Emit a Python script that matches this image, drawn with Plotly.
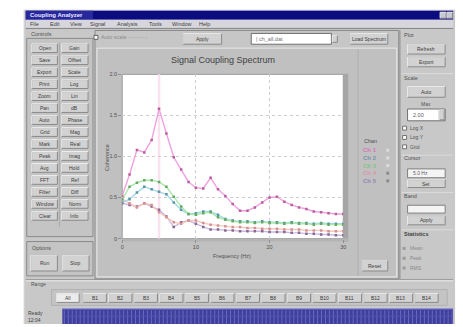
import plotly.graph_objects as go

W, H = 463, 327

# Coupling magnitude per channel at each frequency bin
freq = list(range(31))
series_names = ["Ch 1", "Ch 2", "Ch 3", "Ch 4", "Ch 5"]
ch1 = [0.52, 0.78, 1.08, 1.05, 1.20, 1.58, 1.28, 0.99, 0.84, 0.69, 0.62, 0.61, 0.74, 0.60, 0.52, 0.42,
       0.34, 0.34, 0.38, 0.44, 0.50, 0.51, 0.45, 0.41, 0.38, 0.36, 0.33, 0.32, 0.31, 0.30, 0.30]
ch2 = [0.44, 0.48, 0.56, 0.63, 0.60, 0.57, 0.54, 0.44, 0.35, 0.30, 0.31, 0.33, 0.33, 0.29, 0.24, 0.22,
       0.21, 0.21, 0.20, 0.21, 0.20, 0.20, 0.19, 0.20, 0.19, 0.19, 0.18, 0.19, 0.18, 0.18, 0.18]
ch3 = [0.48, 0.63, 0.68, 0.71, 0.71, 0.69, 0.63, 0.51, 0.39, 0.30, 0.29, 0.31, 0.32, 0.26, 0.23, 0.21,
       0.20, 0.20, 0.19, 0.20, 0.19, 0.19, 0.18, 0.19, 0.18, 0.18, 0.17, 0.18, 0.17, 0.17, 0.17]
ch4 = [0.48, 0.43, 0.38, 0.43, 0.41, 0.32, 0.26, 0.20, 0.18, 0.22, 0.22, 0.19, 0.17, 0.16, 0.15, 0.14,
       0.14, 0.13, 0.13, 0.12, 0.12, 0.12, 0.11, 0.11, 0.11, 0.10, 0.10, 0.10, 0.09, 0.09, 0.09]
ch5 = [0.43, 0.41, 0.39, 0.43, 0.39, 0.35, 0.27, 0.14, 0.20, 0.22, 0.18, 0.14, 0.11, 0.11, 0.10, 0.10,
       0.09, 0.09, 0.09, 0.09, 0.08, 0.08, 0.08, 0.07, 0.07, 0.06, 0.06, 0.05, 0.05, 0.04, 0.04]
x_ticks = [0, 10, 20, 30]
y_ticks = [0, 0.5, 1.0, 1.5, 2.0]
cursor_freq = 5

menu_items = ["File", "Edit", "View", "Signal", "Analysis", "Tools", "Window", "Help"]
left_col_a = ["Open", "Save", "Export", "Print", "Zoom", "Pan", "Auto", "Grid",
              "Mark", "Peak", "Avg", "FFT", "Filter", "Window", "Clear"]
left_col_b = ["Gain", "Offset", "Scale", "Log", "Lin", "dB", "Phase", "Mag",
              "Real", "Imag", "Hold", "Ref", "Diff", "Norm", "Info"]
band_buttons = ["B1", "B2", "B3", "B4", "B5", "B6", "B7", "B8",
                "B9", "B10", "B11", "B12", "B13", "B14"]

line_colors = ["#f0a0e0", "#a4dae6", "#aae8aa", "#f6c8b8", "#ccb8e4"]
marker_colors = ["#b8609a", "#5a94a2", "#68a668", "#d49098", "#866890"]
legend_colors = ["#d472bc", "#7894ac", "#84c484", "#d894ac", "#9484b4"]

FONT = "Liberation Sans, Arial, sans-serif"
BODY = "#c8c8c8"
LIGHT = "#eeeeee"
DARK = "#8a8a8a"

shapes = []
annotations = []


def fx(x):
    return x / W


def fy(y):
    return 1 - y / H


def box(x0, y0, x1, y1, fill, line=None, width=0):
    shapes.append(dict(type="rect", xref="paper", yref="paper", layer="below",
                       x0=fx(x0), x1=fx(x1), y0=fy(y1), y1=fy(y0), fillcolor=fill,
                       line=dict(color=line or fill, width=width)))


def seg(x0, y0, x1, y1, color, width=1):
    shapes.append(dict(type="line", xref="paper", yref="paper", layer="below",
                       x0=fx(x0), x1=fx(x1), y0=fy(y0), y1=fy(y1),
                       line=dict(color=color, width=width)))


def bevel(x0, y0, x1, y1, fill="#d2d2d2", raised=True):
    hi, lo = (LIGHT, DARK) if raised else (DARK, LIGHT)
    box(x0, y0, x1, y1, fill, lo, 1)
    shapes.append(dict(type="path", xref="paper", yref="paper", layer="below",
                       path=f"M {fx(x0)},{fy(y1)} L {fx(x0)},{fy(y0)} L {fx(x1)},{fy(y0)}",
                       line=dict(color=hi, width=1)))


def label(x, y, text, size=6, color="#3a3a3a", anchor="left", bold=False):
    if bold:
        text = f"<b>{text}</b>"
    annotations.append(dict(xref="paper", yref="paper", x=fx(x), y=fy(y), text=text,
                            showarrow=False, xanchor=anchor, yanchor="middle",
                            borderpad=0, font=dict(size=size, color=color, family=FONT)))


def button(x0, y0, x1, y1, text, size=5, fill="#d2d2d2"):
    bevel(x0, y0, x1, y1, fill)
    label((x0 + x1) / 2, (y0 + y1) / 2, text, size=size, anchor="center")


# ---- window frame, title bar and menu ----
box(22, 7, 458, 327, BODY)
seg(22, 7, 22, 327, LIGHT)
box(24, 8, 456, 17, "#0c0c82")
box(24, 8, 92, 17, "#28289e")
label(27, 12.5, "Coupling Analyzer", size=6, color="#e8e8ff", bold=True)
bevel(443, 9.5, 449, 15.5, "#c8c8d8")
bevel(450, 9.5, 455.5, 15.5, "#c8c8d8")
box(24, 17, 456, 25, "#d6d6dc")
mx = 27
for item in menu_items:
    label(mx, 21, item, size=5.5, color="#404040")
    mx += 5 + 3.1 * len(item) + 3
seg(24, 26, 456, 26, DARK)

# ---- left control panel ----
label(28, 32, "Controls", size=5.5, color="#505050")
box(25, 36, 92, 238, "#c4c4c4", DARK, 1)
seg(58, 40, 58, 228, "#a8a8a8")
for i, (a, b) in enumerate(zip(left_col_a, left_col_b)):
    yc = 46 + 12.2 * i
    button(30, yc - 4.5, 56, yc + 4.5, a)
    button(60, yc - 4.5, 87, yc + 4.5, b)
box(25, 243, 92, 278, "#c4c4c4", DARK, 1)
label(29, 250, "Options", size=5.5, color="#505050")
button(29, 257, 56, 273, "Run")
button(61, 257, 88, 273, "Stop")

# ---- chart panel ----
box(94, 28, 401, 281, "#c6c6c6", DARK, 1)
box(93, 33, 97, 37, "#ffffff", "#606060", 1)
label(99, 35, "Auto scale - - - - - -", size=5.5, color="#8c8c8c")
button(183, 31, 222, 42, "Apply")
box(252, 31, 333, 42, "#ffffff", "#707070", 1)
label(256, 36.5, "| ch_all.dat", size=5.5, color="#707070")
bevel(334, 33, 339, 40, "#d2d2d2")
button(352, 31, 390, 42, "Load Spectrum")
box(96, 46, 399, 279, "#c0c0c0", "#e8e8e8", 1)
seg(360, 47, 360, 278, "#b0b0b0")

# plot frame
box(121.5, 72.7, 345, 240, "#ffffff", "#9c9c9c", 1)
box(345, 72, 350, 243, "#a6a6a6")
box(121.5, 240, 350, 243, "#b4b4b4")
label(223, 58, "Signal Coupling Spectrum", size=9, color="#404040")
annotations[-1]["xanchor"] = "center"
label(233, 258, "Frequency (Hz)", size=5.5, color="#505050", anchor="center")
annotations.append(dict(xref="paper", yref="paper", x=fx(106), y=fy(157), text="Coherence",
                        textangle=-90, showarrow=False, xanchor="center", yanchor="middle",
                        font=dict(size=5.5, color="#505050", family=FONT)))

# cursor marker at the selected frequency
shapes.append(dict(type="line", xref="x", yref="paper", layer="below",
                   x0=cursor_freq, x1=cursor_freq, y0=fy(240), y1=fy(72.7),
                   line=dict(color="#f9e2ee", width=2.5)))

# channel legend
label(365, 141, "Chan", size=5.5, color="#505050")
for i, (name, col) in enumerate(zip(series_names, legend_colors)):
    yc = 150 + 7.8 * i
    label(364, yc, name, size=6, color=col, bold=True)
    box(388.5, yc - 1.5, 391.5, yc + 1.5, "#dcdcdc" if i < 3 else "#8a8a8a")
button(364, 262, 390, 273, "Reset")

# ---- right side panel ----
seg(402, 28, 402, 281, "#a0a0a0", 2)
label(405, 33, "Plot", size=5.5, color="#505050")
button(410, 42, 448, 52, "Refresh")
button(410, 55, 448, 65, "Export")
seg(404, 72, 456, 72, "#dcdcdc")
label(405, 76, "Scale", size=5.5, color="#505050")
button(410, 85, 448, 96, "Auto")
label(429, 103, "Max", size=5, color="#505050", anchor="center")
box(410, 108, 448, 120, "#ffffff", "#707070", 1)
label(414, 114, "2.00", size=5.5, color="#606060")
bevel(442, 109, 447, 119, "#d2d2d2")
for j, t in enumerate(["Log X", "Log Y", "Grid"]):
    yc = 127.5 + 9.5 * j
    box(405, yc - 2, 409, yc + 2, "#ffffff", "#707070", 1)
    label(411, yc, t, size=5, color="#555555")
seg(404, 155, 456, 155, "#dcdcdc")
label(405, 158, "Cursor", size=5.5, color="#505050")
box(410, 169, 448, 178, "#f4f4f4", "#808080", 1)
label(414, 173.5, "5.0 Hz", size=5, color="#606060")
button(410, 180, 448, 188, "Set")
seg(404, 193, 456, 193, "#dcdcdc")
label(405, 197, "Band", size=5.5, color="#505050")
box(410, 206, 448, 214, "#f4f4f4", "#808080", 1)
button(410, 217, 448, 226, "Apply")
seg(404, 231, 456, 231, "#dcdcdc")
label(405, 235, "Statistics", size=5.5, color="#404040", bold=True)
for j, t in enumerate(["Mean", "Peak", "RMS"]):
    yc = 250 + 10 * j
    box(405, yc - 1.5, 408, yc + 1.5, "#9a9a9a")
    label(411, yc, t, size=5, color="#8a8a8a")

# ---- bottom band selector and status bar ----
seg(24, 282, 456, 282, DARK)
seg(24, 283, 456, 283, LIGHT)
label(28, 286.5, "Range", size=5, color="#505050")
box(50, 292, 450, 308, "#c4c4c4", "#b0b0b0", 1)
button(55, 296, 78, 305, "All", fill="#ececec")
for k, t in enumerate(band_buttons):
    x0 = 82 + 25.8 * k
    button(x0, 296, x0 + 23.5, 305, t)
label(25, 316, "Ready", size=5, color="#404040")
label(25, 322.5, "12:04", size=5, color="#404040")
box(61, 311, 456, 327, "#3e3e9c")
seg(61, 311.5, 456, 311.5, "#a8a8e4")
for k in range(99):
    xs = 63 + 4 * k
    seg(xs, 313, xs, 327, "#6a6ac0")
seg(61, 319, 456, 319, "#5656b0")

# ---- traces ----
fig = go.Figure()
all_series = [ch1, ch2, ch3, ch4, ch5]
for idx in [4, 3, 1, 2, 0]:
    fig.add_trace(go.Scatter(
        x=freq, y=all_series[idx], name=series_names[idx], mode="lines+markers",
        line=dict(color=line_colors[idx], width=1.4),
        marker=dict(size=2.5, color=marker_colors[idx], symbol="square"),
        showlegend=False, hoverinfo="skip"))

fig.update_layout(
    width=W, height=H, margin=dict(l=0, r=0, t=0, b=0),
    paper_bgcolor="#ffffff", plot_bgcolor="rgba(0,0,0,0)",
    showlegend=False, shapes=shapes, annotations=annotations,
    xaxis=dict(domain=[fx(121.5), fx(345)], range=[0, 30], tickvals=x_ticks,
               ticktext=[str(v) for v in x_ticks], ticks="outside", ticklen=3,
               tickcolor="#909090", tickfont=dict(size=5.5, color="#505050", family=FONT),
               showgrid=True, gridcolor="#cccccc", griddash="dot", gridwidth=1,
               zeroline=False, showline=False, fixedrange=True),
    yaxis=dict(domain=[fy(240), fy(72.7)], range=[0, 2], tickvals=y_ticks,
               ticktext=["0", "0.5", "1.0", "1.5", "2.0"], ticks="outside", ticklen=3,
               tickcolor="#909090", tickfont=dict(size=5.5, color="#505050", family=FONT),
               showgrid=True, gridcolor="#cccccc", griddash="dot", gridwidth=1,
               zeroline=False, showline=False, fixedrange=True),
)

fig.write_html("out.html", config={"displayModeBar": False})
